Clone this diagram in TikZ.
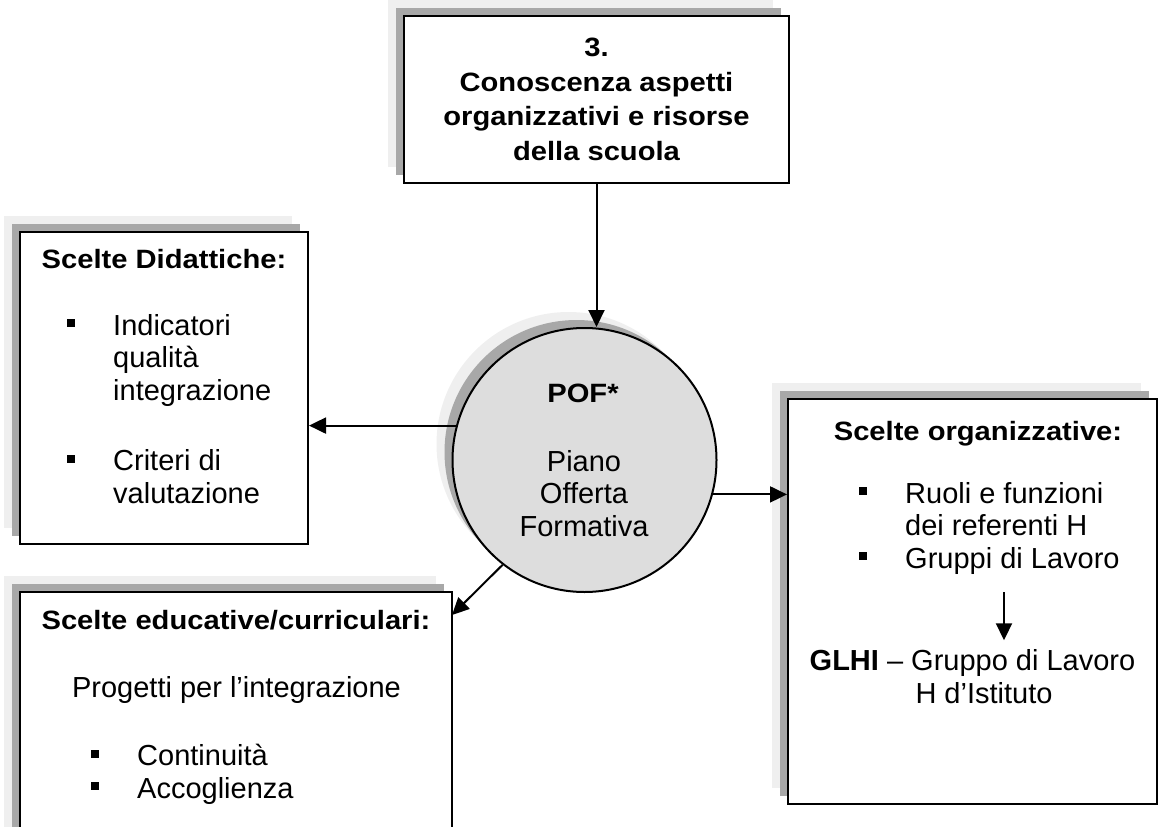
\documentclass[tikz,border=0pt]{standalone}
\usepackage{fontspec}
\setmainfont{Liberation Sans}
\newfontfamily\headfont{Liberation Sans}[BoldFeatures={FakeStretch=1.1}]
\usepackage{tikz}
\usetikzlibrary{arrows.meta,positioning,shadows}
\definecolor{shadowdark}{HTML}{A8A8A8}
\definecolor{shadowlight}{HTML}{EFEFEF}
\definecolor{poffill}{HTML}{DDDDDD}
\newcommand{\sqbullet}{\leavevmode\llap{\rule[8pt]{8pt}{8pt}\hspace{38pt}}}
\tikzset{
  twoshadow/.style={drop shadow={shadow xshift=-16pt, shadow yshift=16pt, fill=shadowlight, opacity=1},
                    drop shadow={shadow xshift=-8pt, shadow yshift=8pt, fill=shadowdark, opacity=1}},
  box/.style={draw, line width=2pt, fill=white, twoshadow, inner sep=0pt},
  pofcircle/.style={circle, draw, line width=2pt, fill=poffill, twoshadow, inner sep=0pt, minimum size=264pt},
  head/.style={font=\fontsize{26.5pt}{34.5pt}\selectfont\headfont\bfseries, align=center, inner sep=0pt},
  body/.style={font=\fontsize{29pt}{32.5pt}\selectfont, inner sep=0pt},
  arrow/.style={-{Triangle[length=17pt,width=16pt]}, line width=2pt}
}

\begin{document}
\begin{tikzpicture}[x=1pt,y=-1pt]
  \clip (0,0) rectangle (1160,827);
  % boxes and circle
  \node[box, head, minimum width=385pt, minimum height=167pt] (conosc) at (596.5,99.5) {3.\\Conoscenza aspetti\\organizzativi e risorse\\della scuola};
  \node[box, minimum width=288pt, minimum height=312pt] (didat) at (164,388) {};
  \node[box, minimum width=432pt, minimum height=280pt] (educ) at (236,732) {};
  \node[box, minimum width=369pt, minimum height=405pt] (organ) at (972.5,601.5) {};
  \node[pofcircle] (pof) at (584.5,460) {};

  % Scelte Didattiche
  \node[head, anchor=base] (didtitle) at (164,268) {Scelte Didattiche:};
  \node[body, anchor=base west, align=left] (didlist) at (113,400) {\sqbullet Indicatori\\qualità\\integrazione};
  \node[body, anchor=base west, align=left] (didcrit) at (113,503) {\sqbullet Criteri di\\valutazione};

  % POF
  \node[head, anchor=base] (poftitle) at (583,402) {POF*};
  \node[body, anchor=base, align=center] (pofbody) at (584,536) {Piano\\Offerta\\Formativa};

  % Scelte educative
  \node[head, anchor=base] (edutitle) at (236,629) {Scelte educative/curriculari:};
  \node[body, anchor=base] (eduproj) at (236.5,697) {Progetti per l’integrazione};
  \node[body, anchor=base west, align=left] (edulist) at (137,798) {\sqbullet Continuità\\\sqbullet Accoglienza};

  % Scelte organizzative
  \node[head, anchor=base] (orgtitle) at (978,440) {Scelte organizzative:};
  \node[body, anchor=base west, align=left] (orglist) at (905,568) {\sqbullet Ruoli e funzioni\\dei referenti H\\\sqbullet Gruppi di Lavoro};
  \node[body, anchor=base, align=center] (glhi) at (972.5,703) {\textbf{GLHI} – Gruppo di Lavoro\\\hspace*{23pt}H d’Istituto};

  \coordinate (edutip) at (452,615);
  \coordinate (glhiarrow) at (1004,592);

  \draw[arrow] (conosc.south) -- (conosc.south |- pof.north);
  \draw[arrow] (pof.165) -- (pof.165 -| didat.east);
  \draw[arrow] (pof.345) -- (pof.345 -| organ.west);
  \draw[arrow] (pof.232) -- (edutip);
  \draw[arrow, shorten >=9pt] (glhiarrow) -- (glhiarrow |- glhi.north);
\end{tikzpicture}
\end{document}
